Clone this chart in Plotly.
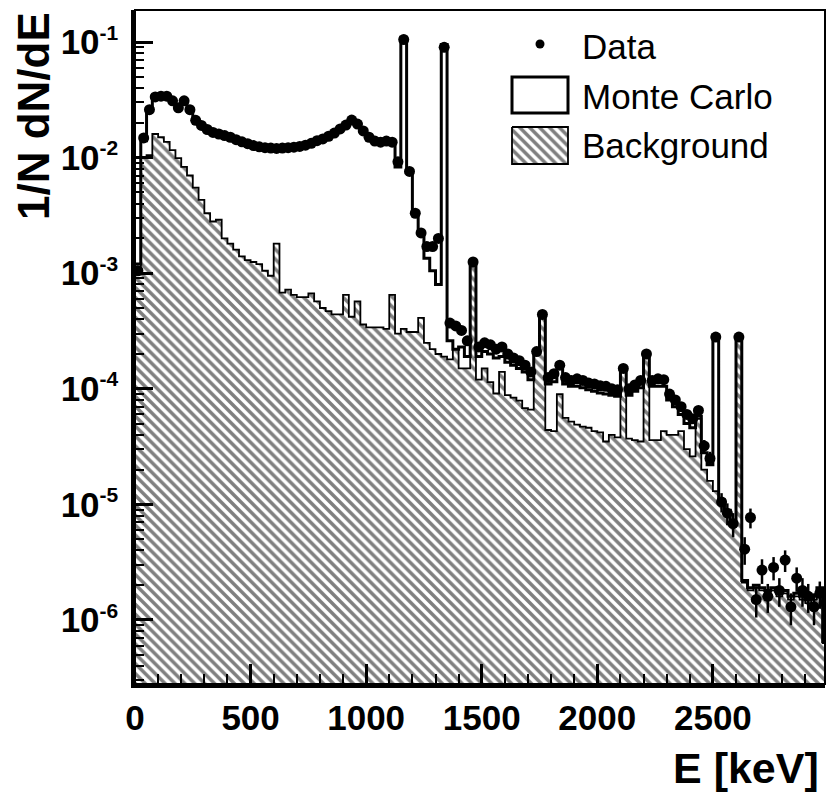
import plotly.graph_objects as go

# Energy binning of the spectra (keV)
bin_width = 25.0
n_bins = 120
bin_left = [k * bin_width for k in range(n_bins)]
bin_center = [e + bin_width / 2 for e in bin_left]

# Measured spectrum, 1/N dN/dE per bin
data_vals = [
    0.00105, 0.0148, 0.026, 0.0335, 0.034, 0.034, 0.031, 0.027, 0.031, 0.026,
    0.021, 0.019, 0.0175, 0.0165, 0.016, 0.0155, 0.015, 0.0143, 0.0137, 0.0132,
    0.0127, 0.0124, 0.0122, 0.0121, 0.012, 0.0121, 0.0122, 0.0123, 0.0125, 0.0128,
    0.0133, 0.014, 0.0145, 0.0153, 0.0163, 0.0177, 0.0191, 0.0211, 0.0195, 0.017,
    0.015, 0.0139, 0.0136, 0.0139, 0.0136, 0.0092, 0.105, 0.0076, 0.0033, 0.00223,
    0.0017, 0.0017, 0.0020, 0.090, 3.7e-4, 3.5e-4, 3.2e-4, 2.6e-4, 1.25e-3, 2.3e-4,
    2.5e-4, 2.4e-4, 2.2e-4, 2.3e-4, 2.0e-4, 1.85e-4, 1.75e-4, 1.6e-4, 1.4e-4, 2.1e-4,
    4.4e-4, 1.25e-4, 1.35e-4, 1.6e-4, 1.25e-4, 1.18e-4, 1.22e-4, 1.18e-4, 1.12e-4, 1.1e-4,
    1.06e-4, 1.05e-4, 1.0e-4, 9.8e-5, 1.5e-4, 1.0e-4, 1.08e-4, 1.18e-4, 2.0e-4, 1.18e-4,
    1.22e-4, 1.2e-4, 9.0e-5, 8.0e-5, 7.0e-5, 6.0e-5, 5.5e-5, 6.5e-5, 3.2e-5, 2.5e-5,
    2.8e-4, 1.05e-5, 8.4e-6, 6.8e-6, 2.8e-4, 4.1e-6, 7.7e-6, 1.5e-6, 2.7e-6, 1.6e-6,
    2.85e-6, 1.8e-6, 3.3e-6, 1.3e-6, 2.3e-6, 1.8e-6, 1.6e-6, 1.3e-6, 1.7e-6, 1.4e-6,
]

# Statistical errors of the high-energy bins (index 95 onwards)
tail_err = [
    5e-6, 5e-6, 5.5e-6, 4e-6, 3.5e-6, 1.5e-5, 2e-6, 1.8e-6, 1.6e-6, 1.5e-5,
    1.1e-6, 1.5e-6, 0.45e-6, 0.65e-6, 0.45e-6, 0.65e-6, 0.5e-6, 0.7e-6, 0.4e-6, 0.55e-6,
    0.5e-6, 0.45e-6, 0.4e-6, 0.45e-6, 0.4e-6,
]
data_err = [0.0] * (n_bins - len(tail_err)) + tail_err

# Full Monte Carlo simulation (signal + background)
mc_vals = [
    0.0012, 0.014, 0.026, 0.0335, 0.034, 0.034, 0.031, 0.027, 0.031, 0.026,
    0.021, 0.019, 0.0175, 0.0165, 0.016, 0.0155, 0.015, 0.0143, 0.0137, 0.0132,
    0.0127, 0.0124, 0.0122, 0.0121, 0.012, 0.0121, 0.0122, 0.0123, 0.0125, 0.0128,
    0.0133, 0.014, 0.0145, 0.0153, 0.0163, 0.0177, 0.0191, 0.0211, 0.0195, 0.017,
    0.015, 0.0139, 0.0136, 0.0139, 0.0136, 0.0083, 0.11, 0.0075, 0.0033, 0.0022,
    0.00135, 0.00105, 0.0008, 0.095, 2.6e-4, 2.2e-4, 2.3e-4, 1.9e-4, 1.2e-3, 1.9e-4,
    2.1e-4, 2.0e-4, 1.85e-4, 1.9e-4, 1.7e-4, 1.6e-4, 1.5e-4, 1.4e-4, 1.2e-4, 2.1e-4,
    4.4e-4, 1.1e-4, 1.15e-4, 1.5e-4, 1.1e-4, 1.05e-4, 1.05e-4, 1.02e-4, 9.8e-5, 9.5e-5,
    9.2e-5, 9.0e-5, 8.8e-5, 8.6e-5, 1.5e-4, 8.8e-5, 9.5e-5, 1.02e-4, 2.0e-4, 1.05e-4,
    1.05e-4, 1.05e-4, 8.0e-5, 7.0e-5, 6.0e-5, 5.0e-5, 4.6e-5, 5.8e-5, 2.8e-5, 2.2e-5,
    2.9e-4, 1.09e-5, 8.9e-6, 7.3e-6, 2.8e-4, 2.2e-6, 1.9e-6, 2.0e-6, 1.9e-6, 1.8e-6,
    1.9e-6, 1.7e-6, 1.8e-6, 1.6e-6, 1.7e-6, 1.6e-6, 1.5e-6, 1.6e-6, 1.9e-6, 6.5e-7,
]

# Simulated background contribution
bg_vals = [
    0.0011, 0.0100, 0.0105, 0.016, 0.015, 0.0137, 0.0116, 0.0099, 0.0083, 0.0070,
    0.0055, 0.0043, 0.0033, 0.0028, 0.0029, 0.0020, 0.0018, 0.0016, 0.0014, 0.0013,
    0.00125, 0.0012, 0.00105, 0.00095, 0.0018, 0.00068, 0.00072, 0.00065, 0.00062, 0.00062,
    0.00067, 0.00057, 0.00050, 0.00047, 0.00044, 0.00044, 0.00065, 0.00042, 0.00057, 0.00036,
    0.00034, 0.00034, 0.00034, 0.00033, 0.00065, 0.00030, 0.00033, 0.00031, 0.00031, 0.00041,
    0.00025, 0.00022, 0.00020, 0.00019, 0.00018, 0.00022, 0.00015, 0.00015, 0.00125, 0.00012,
    0.00015, 1.14e-4, 9.1e-5, 1.4e-4, 8.8e-5, 8.4e-5, 7.9e-5, 6.8e-5, 6.6e-5, 2.2e-4,
    4.4e-4, 4.4e-5, 4.3e-5, 9.0e-5, 5.6e-5, 5.2e-5, 4.9e-5, 4.7e-5, 4.6e-5, 4.3e-5,
    4.2e-5, 3.5e-5, 4.0e-5, 3.8e-5, 1.5e-4, 3.7e-5, 3.6e-5, 3.5e-5, 2.0e-4, 3.6e-5,
    3.6e-5, 4.3e-5, 4.0e-5, 4.0e-5, 4.3e-5, 3.0e-5, 2.6e-5, 5.5e-5, 2.0e-5, 1.6e-5,
    1.3e-5, 1.05e-5, 8.6e-6, 7.0e-6, 2.8e-4, 2.1e-6, 1.8e-6, 1.9e-6, 1.8e-6, 1.7e-6,
    1.8e-6, 1.6e-6, 1.7e-6, 1.5e-6, 1.6e-6, 1.5e-6, 1.4e-6, 1.5e-6, 1.8e-6, 6.3e-7,
]

y_tick_vals = [1e-6, 1e-5, 1e-4, 1e-3, 1e-2, 1e-1]
y_tick_exps = ["-6", "-5", "-4", "-3", "-2", "-1"]
y_tick_text = ["10<sup><span style='font-size:21px'>%s</span></sup>" % e for e in y_tick_exps]
x_tick_vals = [0, 500, 1000, 1500, 2000, 2500]
y_minor_vals = [m * 10.0 ** e for e in range(-7, 0) for m in range(2, 10)]

FONT = "Liberation Sans, Arial, Helvetica, sans-serif"
hatch = dict(shape="\\", fgcolor="black", bgcolor="white", size=7, solidity=0.5)

# step outlines need the closing right edge
step_x = bin_left + [n_bins * bin_width]
bg_step = bg_vals + [bg_vals[-1]]
mc_step = mc_vals + [mc_vals[-1]]

fig = go.Figure()

fig.add_trace(go.Bar(
    x=bin_center, y=bg_vals, width=bin_width,
    marker=dict(color="white", line=dict(width=0), pattern=hatch),
    showlegend=False, hoverinfo="skip",
))
fig.add_trace(go.Scatter(
    x=step_x, y=bg_step, mode="lines",
    line=dict(color="black", width=1.8, shape="hv"),
    showlegend=False, hoverinfo="skip",
))
fig.add_trace(go.Scatter(
    x=step_x, y=mc_step, mode="lines",
    line=dict(color="black", width=3, shape="hv"),
    showlegend=False, hoverinfo="skip",
))
fig.add_trace(go.Scatter(
    x=bin_center, y=data_vals, mode="markers",
    marker=dict(color="black", size=11),
    error_y=dict(type="data", array=data_err, color="black", thickness=2.5, width=0),
    showlegend=False,
))

# Legend drawn on a pixel-scaled overlay
plot_left, plot_right, plot_top, plot_bottom = 135, 825, 10, 684
fig.add_trace(go.Scatter(
    x=[540], y=[44], mode="markers", marker=dict(color="black", size=9),
    xaxis="x2", yaxis="y2", showlegend=False, hoverinfo="skip",
))
fig.add_trace(go.Scatter(
    x=[512, 568, 568, 512, 512], y=[127, 127, 164, 164, 127],
    mode="lines", fill="toself", fillcolor="white", fillpattern=hatch,
    line=dict(color="black", width=1.8),
    xaxis="x2", yaxis="y2", showlegend=False, hoverinfo="skip",
))
fig.add_shape(type="rect", xref="x2", yref="y2", x0=512, x1=568, y0=77, y1=113,
              line=dict(color="black", width=3), fillcolor="rgba(0,0,0,0)")
for label, ypos in [("Data", 46), ("Monte Carlo", 96), ("Background", 145)]:
    fig.add_annotation(x=580, y=ypos, xref="x2", yref="y2", text=label,
                       showarrow=False, xanchor="left", yanchor="middle",
                       font=dict(family=FONT, size=35, color="black"))

# Frame
fig.add_shape(type="rect", xref="paper", yref="paper", x0=0, x1=1, y0=0, y1=1,
              line=dict(color="black", width=2), layer="above")

plot_w = plot_right - plot_left
plot_h = plot_bottom - plot_top
fig.add_annotation(
    text="1/N dN/dE", textangle=-90, showarrow=False,
    xref="paper", yref="paper", x=(33 - plot_left) / plot_w, y=1.0,
    xanchor="center", yanchor="top",
    font=dict(family=FONT, size=44, color="black", weight="bold"),
)
fig.add_annotation(
    text="E [keV]", showarrow=False,
    xref="paper", yref="paper", x=(821 - plot_left) / plot_w,
    y=(plot_bottom - 768) / plot_h,
    xanchor="right", yanchor="middle",
    font=dict(family=FONT, size=43, color="black", weight="bold"),
)

fig.update_layout(
    width=827, height=794,
    margin=dict(l=plot_left, r=827 - plot_right, t=plot_top, b=794 - plot_bottom, pad=0),
    paper_bgcolor="white", plot_bgcolor="white",
    bargap=0, showlegend=False,
    xaxis=dict(
        range=[0, 2985], showgrid=False, zeroline=False,
        showline=True, linecolor="black", linewidth=3.5,
        tickmode="array", tickvals=x_tick_vals,
        ticks="inside", ticklen=20, tickwidth=2.5, tickcolor="black",
        minor=dict(ticks="inside", dtick=100, ticklen=10, tickwidth=2, tickcolor="black"),
        tickfont=dict(family=FONT, size=35, color="black", weight="bold"),
    ),
    yaxis=dict(
        type="log", range=[-6.554, -0.723], showgrid=False, zeroline=False,
        showline=True, linecolor="black", linewidth=3.5,
        tickmode="array", tickvals=y_tick_vals, ticktext=y_tick_text,
        ticks="inside", ticklen=18, tickwidth=2.5, tickcolor="black",
        ticklabelstandoff=6,
        minor=dict(ticks="inside", tickmode="array", tickvals=y_minor_vals,
                   ticklen=9, tickwidth=2, tickcolor="black"),
        tickfont=dict(family=FONT, size=35, color="black", weight="bold"),
    ),
    xaxis2=dict(overlaying="x", range=[plot_left, plot_right], visible=False),
    yaxis2=dict(overlaying="y", range=[plot_bottom, plot_top], visible=False),
)

fig.write_html("out.html")
